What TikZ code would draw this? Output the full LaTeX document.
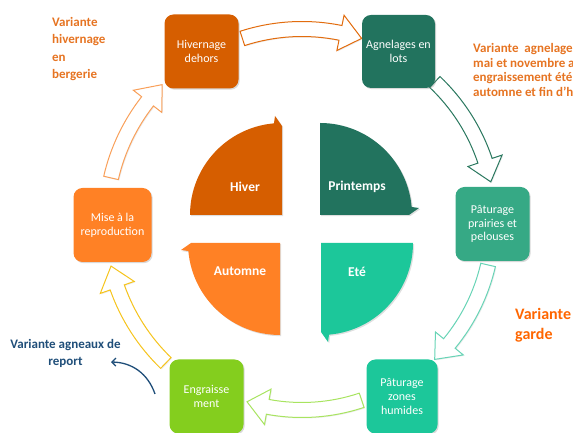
\documentclass[tikz,border=0pt]{standalone}
\usepackage{fontspec}
\setmainfont{Carlito}
\usetikzlibrary{arrows.meta,calc,positioning,shadows}

\definecolor{hivcol}{RGB}{214,94,0}
\definecolor{agncol}{RGB}{34,115,94}
\definecolor{praicol}{RGB}{54,169,133}
\definecolor{zhcol}{RGB}{28,199,154}
\definecolor{engcol}{RGB}{132,206,30}
\definecolor{misecol}{RGB}{255,129,37}
\definecolor{varorange}{RGB}{230,116,34}
\definecolor{gardecol}{RGB}{255,102,0}
\definecolor{navy}{RGB}{31,78,121}
\definecolor{fhiv}{RGB}{226,108,14}
\definecolor{fagn}{RGB}{42,120,95}
\definecolor{fprai}{RGB}{104,212,182}
\definecolor{feng}{RGB}{168,228,96}
\definecolor{fmise}{RGB}{246,196,28}
\definecolor{fora}{RGB}{249,160,90}

% hollow block arrow along the ring: colour, tail angle, tip angle, radius
\newcommand{\ringarrow}[4]{%
  \pgfmathsetmacro{\rahb}{#3+6.5}%
  \pgfmathsetmacro{\raout}{#4+7.5}%
  \pgfmathsetmacro{\rain}{#4-7.5}%
  \pgfmathsetmacro{\rahout}{#4+18}%
  \pgfmathsetmacro{\rahin}{#4-18}%
  \draw[ringarrow,draw=#1] (#2:\raout) arc[start angle=#2,end angle=\rahb,radius=\raout]
    -- (\rahb:\rahout) -- (#3:#4) -- (\rahb:\rahin) -- (\rahb:\rain)
    arc[start angle=\rahb,end angle=#2,radius=\rain] -- cycle;}

\begin{document}
\begin{tikzpicture}[x=1pt,y=1pt,
    etape/.style={rounded corners=9pt,minimum width=74pt,minimum height=74pt,inner sep=2pt,
      text=white,align=center,font=\fontsize{12}{13.8}\selectfont,
      drop shadow={shadow xshift=1.2pt,shadow yshift=-1.2pt,opacity=.3}},
    saison/.style={drop shadow={shadow xshift=1.2pt,shadow yshift=-1.2pt,opacity=.25}},
    slabel/.style={text=white,font=\bfseries\fontsize{13.5}{15}\selectfont},
    variante/.style={font=\bfseries\fontsize{13}{17.5}\selectfont,align=left,inner sep=0pt,anchor=north west},
    ringarrow/.style={fill=white,line width=1pt,
      drop shadow={shadow xshift=1pt,shadow yshift=-1pt,opacity=.15}}]
  \useasboundingbox (0,0) rectangle (573,433);
  \clip (0,0) rectangle (573,433);
  \coordinate (cen) at (302,211);

  % ring arrows
  \begin{scope}[shift={(cen)}]
    \foreach \c/\a/\b/\r in {fhiv/108/72/193,fagn/46.5/12/193,fprai/-13/-46/191,
                             feng/-71.5/-107/188,fmise/-134/-167/196,fora/167/135.5/196}
      {\ringarrow{\c}{\a}{\b}{\r}}
  \end{scope}

  % steps
  \node[etape,fill=hivcol] (hiv) at (201.5,381.5) {Hivernage\\dehors};
  \node[etape,fill=agncol,minimum width=73pt,minimum height=73pt] (agn) at (398.5,381.5) {Agnelages en\\lots};
  \node[etape,fill=praicol] (prai) at (492.5,209) {Pâturage\\prairies et\\pelouses};
  \node[etape,fill=zhcol,minimum width=71pt] (zh) at (402,36.5) {Pâturage\\zones\\humides};
  \node[etape,fill=engcol] (eng) at (206.5,36.5) {Engraisse\\ment};
  \node[etape,fill=misecol,minimum width=78pt] (mise) at (112.5,208) {Mise à la\\reproduction};

  % seasons
  \begin{scope}[shift={(282,218)}]
    \fill[saison,hivcol] (0,0) -- (180:92) arc[start angle=180,end angle=95,radius=92]
      -- (-7,99) -- (0,89) -- cycle;
  \end{scope}
  \begin{scope}[shift={(320,218)}]
    \fill[saison,agncol] (0,0) -- (90:92) arc[start angle=90,end angle=5,radius=92]
      -- (99,7) -- (89,0) -- cycle;
  \end{scope}
  \begin{scope}[shift={(321,190)}]
    \fill[saison,zhcol] (0,0) -- (0:92) arc[start angle=0,end angle=-85,radius=92]
      -- (7,-99) -- (0,-89) -- cycle;
  \end{scope}
  \begin{scope}[shift={(280,190)}]
    \fill[saison,misecol] (0,0) -- (-90:92) arc[start angle=-90,end angle=-175,radius=92]
      -- (-99,-7) -- (-89,0) -- cycle;
  \end{scope}
  \node[slabel] (hiver) at (245,246) {Hiver};
  \node[slabel] (printemps) at (357,246) {Printemps};
  \node[slabel] (automne) at (240,162) {Automne};
  \node[slabel] (ete) at (357,161) {Eté};

  % variants
  \node[variante,text=varorange] (vhiv) at (52,416) {Variante\\hivernage\\en\\bergerie};
  \node[variante,text=varorange,font=\bfseries\fontsize{13}{14.7}\selectfont] (vagn) at (473,390)
    {Variante\ \ agnelages en\\mai et novembre avec\\engraissement été\\automne et fin d'hiver};
  \node[variante,text=gardecol,font=\bfseries\fontsize{16}{20}\selectfont] (vgarde) at (515,125) {Variante\\garde};
  \node[variante,text=navy,align=center,anchor=north,font=\bfseries\fontsize{13}{17}\selectfont] (vrep) at (65.5,94)
    {Variante agneaux de\\report};
  \coordinate (repA) at (155,39);
  \coordinate (repB) at (111,71);
  \draw[navy,line width=1.3pt,-{Straight Barb[length=4pt,width=8pt]}] (repA) to[bend right=35] (repB);
\end{tikzpicture}
\end{document}
